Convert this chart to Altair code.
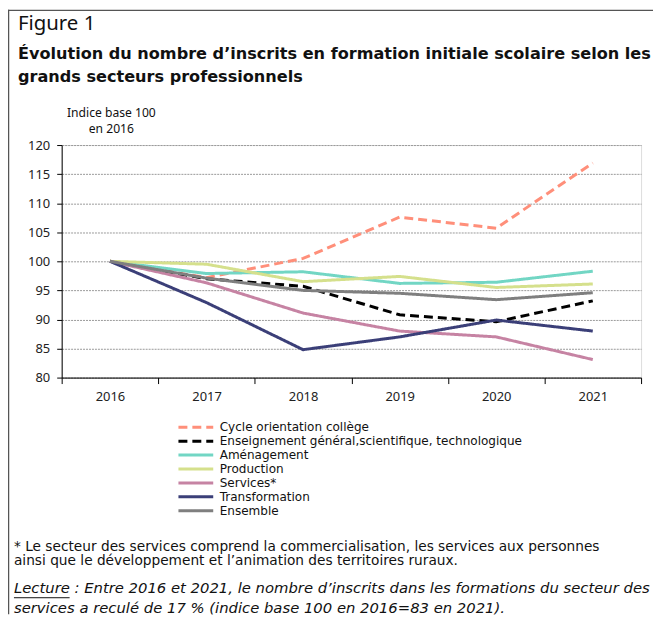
import altair as alt
import pandas as pd

years = ["2016", "2017", "2018", "2019", "2020", "2021"]
series = [
    "Cycle orientation collège",
    "Enseignement général,scientifique, technologique",
    "Aménagement",
    "Production",
    "Services*",
    "Transformation",
    "Ensemble",
]
cycle = [100, 97.2, 100.5, 107.6, 105.7, 116.9]
enseignement = [100, 97.0, 95.7, 90.8, 89.6, 93.2]
amenagement = [100, 97.9, 98.2, 96.2, 96.4, 98.3]
production = [100, 99.5, 96.5, 97.4, 95.5, 96.1]
services = [100, 96.3, 91.1, 88.0, 87.0, 83.1]
transformation = [100, 92.9, 84.8, 87.0, 89.9, 88.0]
ensemble = [100, 97.1, 95.0, 94.5, 93.4, 94.6]
all_vals = [cycle, enseignement, amenagement, production, services, transformation, ensemble]

colors = ["#FF8F7A", "#000000", "#72D6C4", "#D5E08C", "#C683A3", "#3B3F78", "#7F7F7F"]
dashes = [[9, 5], [9, 5], [1, 0], [1, 0], [1, 0], [1, 0], [1, 0]]
y_ticks = [80, 85, 90, 95, 100, 105, 110, 115, 120]

rows = []
for k, (s, vals) in enumerate(zip(series, all_vals)):
    for yr, v in zip(years, vals):
        rows.append({"series": s, "year": yr, "value": v, "ord": k})
df = pd.DataFrame(rows)

FONT = "Noto Sans"
TFONT = "DejaVu Sans"

legend = alt.Legend(
    title=None, orient="none", legendX=116, legendY=277,
    symbolType="stroke", symbolSize=1225, symbolStrokeWidth=3,
    labelFontSize=12.1, labelFont=TFONT, labelColor="#111", labelOffset=5, labelLimit=500,
    clipHeight=14, rowPadding=0, padding=0,
)

lines = alt.Chart(df).mark_line(strokeWidth=3).encode(
    x=alt.X("year:O", bandPosition=0.5,
            scale=alt.Scale(type="band", paddingInner=0, paddingOuter=0),
            axis=alt.Axis(title=None, labelAngle=0, labelFontSize=13, labelColor="#222",
                          tickBand="extent", tickColor="#000", tickSize=6,
                          domainColor="#000", labelPadding=7, grid=False)),
    y=alt.Y("value:Q", scale=alt.Scale(domain=[80, 120], nice=False, zero=False),
            axis=alt.Axis(title=None, values=y_ticks, labelFontSize=13, labelColor="#222",
                          tickColor="#000", tickSize=5, domainColor="#000", labelPadding=7,
                          grid=True, gridDash=[2, 1], gridColor="#999")),
    color=alt.Color("series:N", scale=alt.Scale(domain=series, range=colors), legend=legend),
    strokeDash=alt.StrokeDash("series:N", scale=alt.Scale(domain=series, range=dashes), legend=legend),
    order=alt.Order("ord:Q"),
)


def txt(s, x, y, size, weight="normal", style="normal", align="left", font=TFONT):
    return alt.Chart(pd.DataFrame({"a": [0]})).mark_text(
        text=s, fontSize=size, fontWeight=weight, fontStyle=style, align=align,
        baseline="middle", font=font, color="#111"
    ).encode(x=alt.value(x), y=alt.value(y))


def rule(x, x2, y, y2, color="#444", w=1):
    return alt.Chart(pd.DataFrame({"a": [0]})).mark_rule(color=color, strokeWidth=w).encode(
        x=alt.value(x), x2=alt.value(x2), y=alt.value(y), y2=alt.value(y2))


layers = [
    lines,
    txt("Figure 1", -44, -122, 20.5, font=FONT),
    txt("Évolution du nombre d’inscrits en formation initiale scolaire selon les", -44, -92, 16.2, "bold"),
    txt("grands secteurs professionnels", -44, -68, 16.2, "bold"),
    txt("Indice base 100", 50, -32, 12.2, align="center", font=FONT),
    txt("en 2016", 50, -16, 12.2, align="center", font=FONT),
    txt("* Le secteur des services comprend la commercialisation, les services aux personnes", -48, 404, 13.8),
    txt("ainsi que le développement et l’animation des territoires ruraux.", -48, 419, 13.8),
    txt("Lecture : Entre 2016 et 2021, le nombre d’inscrits dans les formations du secteur des", -48, 447, 14.9, style="italic"),
    txt("services a reculé de 17 % (indice base 100 en 2016=83 en 2021).", -48, 467, 14.9, style="italic"),
    rule(-48, 8, 455.5, 455.5, "#111", 1),
    rule(-54, 595, -135.5, -135.5, "#555", 1.5),
    rule(-53.5, -53.5, -136, 472, "#555", 1.5),
]

chart = alt.layer(*layers).properties(
    width=583, height=234,
    autosize=alt.AutoSizeParams(type="none"),
    padding={"left": 54, "top": 136, "right": 12, "bottom": 238},
).configure_view(stroke=None).configure(font=FONT)

chart.save("out.html", embed_options={"renderer": "svg", "actions": False})
